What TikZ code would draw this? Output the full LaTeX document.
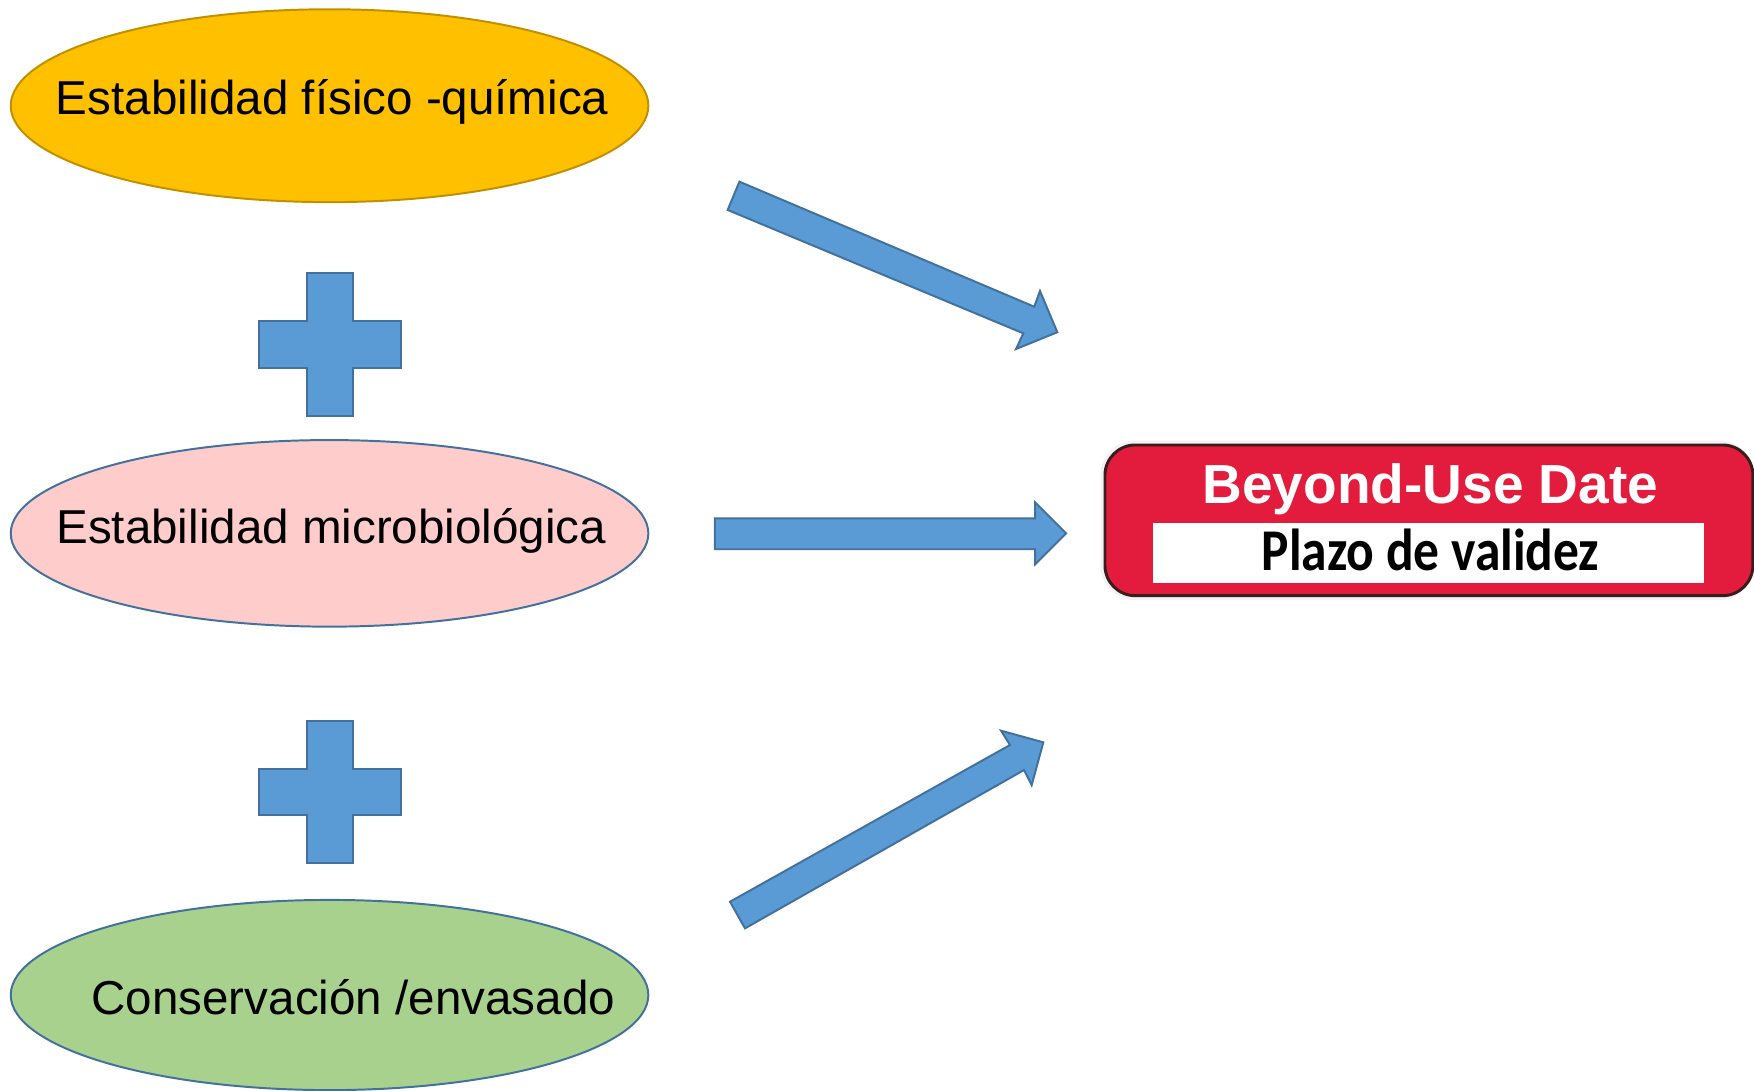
\documentclass[tikz,border=0pt]{standalone}
\usepackage{fontspec}
\setmainfont{Liberation Sans}
\newfontfamily\calibrifont{Carlito}
\usetikzlibrary{shapes.geometric}
\definecolor{bluefill}{HTML}{5B9BD5}
\definecolor{blueline}{HTML}{41719C}
\definecolor{goldfill}{HTML}{FFC000}
\definecolor{goldline}{HTML}{BF9000}
\definecolor{pinkfill}{HTML}{FFCCCC}
\definecolor{greenfill}{HTML}{A9D18E}
\definecolor{labelred}{HTML}{E31C3D}
\definecolor{labelline}{HTML}{3A1C1C}
\tikzset{
  oval/.style={ellipse, inner sep=0pt, line width=0.5pt, minimum width=57mm},
  ovaltext/.style={anchor=base, inner sep=0pt, font=\fontsize{12.1}{14}\selectfont},
  blockshape/.style={fill=bluefill, draw=blueline, line width=0.5pt, line join=miter},
}
\begin{document}
\begin{tikzpicture}[x=0.1mm, y=-0.1mm]
\useasboundingbox (0,0) rectangle (1568,975);
\fill[white] (0,0) rectangle (1568,975);

% ellipses
\node[oval, fill=goldfill, draw=goldline, minimum height=17.24mm] (e1) at (294.6,94.5) {};
\node[oval, fill=pinkfill, draw=blueline, minimum height=16.68mm] (e2) at (294.6,476.8) {};
\node[oval, fill=greenfill, draw=blueline, minimum height=17.0mm] (e3) at (294.6,889.5) {};
\node[ovaltext] (t1) at (297,102.8) {Estabilidad físico -química};
\node[ovaltext] (t2) at (296.2,485.7) {Estabilidad microbiológica};
\node[ovaltext] (t3) at (315.8,906.5) {Conservación /envasado};

% plus signs
\draw[blockshape] (274.1,243.8) -- (315.2,243.8) -- (315.2,287) -- (358.6,287) -- (358.6,328.7)
  -- (315.2,328.7) -- (315.2,371.6) -- (274.1,371.6) -- (274.1,328.7) -- (231.4,328.7)
  -- (231.4,287) -- (274.1,287) -- cycle;
\draw[blockshape] (274.1,644.5) -- (315.2,644.5) -- (315.2,687.5) -- (358.6,687.5) -- (358.6,728.6)
  -- (315.2,728.6) -- (315.2,771.8) -- (274.1,771.8) -- (274.1,728.6) -- (231.4,728.6)
  -- (231.4,687.5) -- (274.1,687.5) -- cycle;

% label
\fill[gray!10, rounded corners=3.1mm] (983.8,393.8) rectangle (1568,536.5);
\node[draw=labelline, fill=labelred, line width=0.75pt, rounded corners=2.7mm,
      minimum width=57.92mm, minimum height=13.47mm, inner sep=0pt] (bud) at (1277.4,465.15) {};
\node[fill=white, minimum width=49.31mm, minimum height=5.43mm, inner sep=0pt] (wb) at (1277.05,494.35) {};
\node[anchor=base, inner sep=0pt, text=white, font=\bfseries\fontsize{14}{16}\selectfont] (bt) at (1278.7,450) {Beyond-Use Date};
\node[anchor=base, inner sep=0pt, font=\calibrifont\bfseries\fontsize{13.1}{15}\selectfont] (pt) at (1278.8,509.6) {\scalebox{1}[1.15]{Plazo de validez}};

% block arrows
\draw[blockshape] (661,162.4) -- (924.6,274.2) -- (929.7,260.1) -- (945.2,297) -- (908.3,312)
  -- (914.8,298) -- (650.5,187.7) -- cycle;
\draw[blockshape] (639,463.4) -- (925.3,463.4) -- (925.3,449) -- (953,476.8) -- (925.3,504.5)
  -- (925.3,491) -- (639,491) -- cycle;
\draw[blockshape] (652.6,806.1) -- (902.9,666) -- (894.9,653.2) -- (932.7,663.6) -- (922.3,701.8)
  -- (915.4,688.4) -- (666,829.9) -- cycle;
\end{tikzpicture}
\end{document}
